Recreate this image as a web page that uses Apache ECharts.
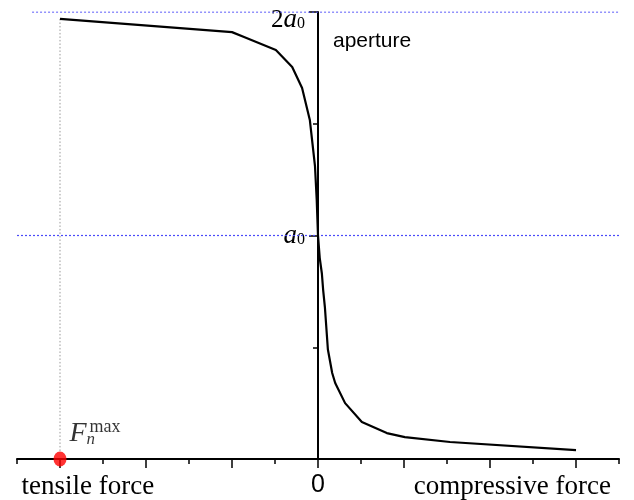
<!DOCTYPE html>
<html>
<head>
<meta charset="utf-8">
<script src="https://cdn.jsdelivr.net/npm/echarts@6/dist/echarts.min.js"></script>
<style>html,body{margin:0;padding:0;background:#fff}#c{width:634px;height:500px}</style>
</head>
<body>
<div id="c"></div>
<script>
// ---- data ----
var curveX = [-6, -2, -1.72, -0.98, -0.6, -0.37, -0.19, -0.07, -0.03, 0, 0.04, 0.09, 0.12, 0.16, 0.23, 0.33, 0.4, 0.63, 1.02, 1.6, 2.02, 3.07, 6];
var curveY = [1.969, 1.910, 1.888, 1.83, 1.754, 1.66, 1.517, 1.31, 1.16, 1.0, 0.9, 0.83, 0.756, 0.68, 0.49, 0.385, 0.34, 0.25, 0.166, 0.116, 0.098, 0.076, 0.04];
var topRefX = [-6.65, 7];      // dotted line at 2a0
var topRefY = [2, 2];
var midRefX = [-7, 7];         // dotted line at a0
var midRefY = [1, 1];
var vertRefX = [-6, -6];       // grey dotted drop line
var vertRefY = [1.969, 0.03];
var pointX = [-6];             // F_n^max marker
var pointY = [0];
var xMin = -7, xMax = 7, yMin = 0, yMax = 2;
var xMajorTicks = [-6, -4, -2, 0, 2, 4, 6];
var xMinorTicks = [-7, -5, -3, -1, 1, 3, 5, 7];
var xLabelValues = [-5.35, 0, 4.52];
var xLabelTexts = ['tensile force', '0', 'compressive force'];
var yMajorTicks = [1, 2];
var yMinorTicks = [0.5, 1.5];
var yName = 'aperture';

function pairs(xs, ys) { return xs.map(function (x, i) { return [x, ys[i]]; }); }

var serif = 'Liberation Serif';
var sans = 'Liberation Sans';
var W = 634, gridL = 17, gridR = 15;
// shift of the y axis from the grid's left edge to x = 0
var yShift = (W - gridL - gridR) * (0 - xMin) / (xMax - xMin);

var chart = echarts.init(document.getElementById('c'), null, {renderer: 'canvas'});
chart.setOption({
  animation: false,
  backgroundColor: '#fff',
  title: {
    text: yName, left: 333, top: 31, padding: 0,
    textStyle: {fontFamily: sans, fontSize: 21, fontWeight: 'normal', color: '#000'}
  },
  grid: {left: gridL, right: gridR, top: 12, bottom: 41, outerBoundsMode: 'none', containLabel: false},
  xAxis: [{
    type: 'value', min: xMin, max: xMax, position: 'bottom',
    axisLine: {onZero: false, lineStyle: {color: '#000', width: 2}},
    axisTick: {show: true, inside: false, length: 9, customValues: xMajorTicks, lineStyle: {color: '#000', width: 1.5}},
    splitLine: {show: false},
    axisLabel: {
      customValues: xLabelValues, margin: 14, color: '#000',
      formatter: function (v) {
        var i = xLabelValues.indexOf(v);
        var t = xLabelTexts[i];
        return t === '0' ? '{z|0}' : '{s|' + t + '}';
      },
      rich: {
        s: {fontFamily: serif, fontSize: 27, color: '#000'},
        z: {fontFamily: sans, fontSize: 25, color: '#000'}
      }
    }
  }, {
    type: 'value', min: xMin, max: xMax, position: 'bottom',
    axisLine: {show: false, onZero: false},
    axisTick: {show: true, inside: false, length: 5, customValues: xMinorTicks, lineStyle: {color: '#000', width: 1.5}},
    splitLine: {show: false},
    axisLabel: {show: false}
  }],
  yAxis: [{
    type: 'value', min: yMin, max: yMax, position: 'left', offset: -yShift,
    axisLine: {onZero: false, lineStyle: {color: '#000', width: 2}},
    axisTick: {show: true, inside: false, length: 9, customValues: yMajorTicks, lineStyle: {color: '#000', width: 1.5}},
    splitLine: {show: false},
    axisLabel: {
      customValues: yMajorTicks, margin: 13, color: '#000',
      formatter: function (v) {
        if (v === 2) return '{sp|}\n{n|2}{a|a}{s|0}';
        return '{a|a}{s|0}';
      },
      rich: {
        sp: {lineHeight: 16, fontSize: 10},
        n: {fontFamily: serif, fontSize: 25, color: '#000', lineHeight: 24},
        a: {fontFamily: serif, fontSize: 27, fontStyle: 'italic', color: '#000', lineHeight: 24},
        s: {fontFamily: serif, fontSize: 16, color: '#000', verticalAlign: 'bottom', lineHeight: 24, padding: [14, 0, 0, 0]}
      }
    }
  }, {
    type: 'value', min: yMin, max: yMax, position: 'left', offset: -yShift,
    axisLine: {show: false, onZero: false},
    axisTick: {show: true, inside: false, length: 5, customValues: yMinorTicks, lineStyle: {color: '#000', width: 1.5}},
    splitLine: {show: false},
    axisLabel: {show: false}
  }],
  series: [{
    type: 'line', data: pairs(topRefX, topRefY), symbol: 'none', silent: true,
    lineStyle: {color: '#4a4af8', width: 1.2, type: [2, 2]}, z: 1
  }, {
    type: 'line', data: pairs(midRefX, midRefY), symbol: 'none', silent: true,
    itemStyle: {color: '#4a4af8'},
    lineStyle: {color: '#4a4af8', width: 1.2, type: [2, 2]}, z: 1
  }, {
    type: 'line', data: pairs(vertRefX, vertRefY), symbol: 'none', silent: true,
    lineStyle: {color: '#999', width: 1, type: [1.5, 2]}, z: 1
  }, {
    type: 'line', data: pairs(curveX, curveY), symbol: 'none', silent: true,
    lineStyle: {color: '#000', width: 2.2}, z: 3
  }, {
    type: 'scatter', data: pairs(pointX, pointY), symbol: 'circle', symbolSize: [13, 15],
    itemStyle: {color: '#ff0000'}, clip: false, z: 5,
    label: {
      show: true, position: [16, -33],
      formatter: '{F|F}{n|n}{m|max}',
      rich: {
        F: {fontFamily: serif, fontSize: 28, fontStyle: 'italic', color: '#000', lineHeight: 30},
        n: {fontFamily: serif, fontSize: 17, fontStyle: 'italic', color: '#000', verticalAlign: 'bottom', width: 3, lineHeight: 30, padding: [15, 0, 0, 0]},
        m: {fontFamily: serif, fontSize: 18, color: '#000', verticalAlign: 'top', lineHeight: 30, padding: [0, 0, 14, 0]}
      }
    }
  }]
});
</script>
</body>
</html>
